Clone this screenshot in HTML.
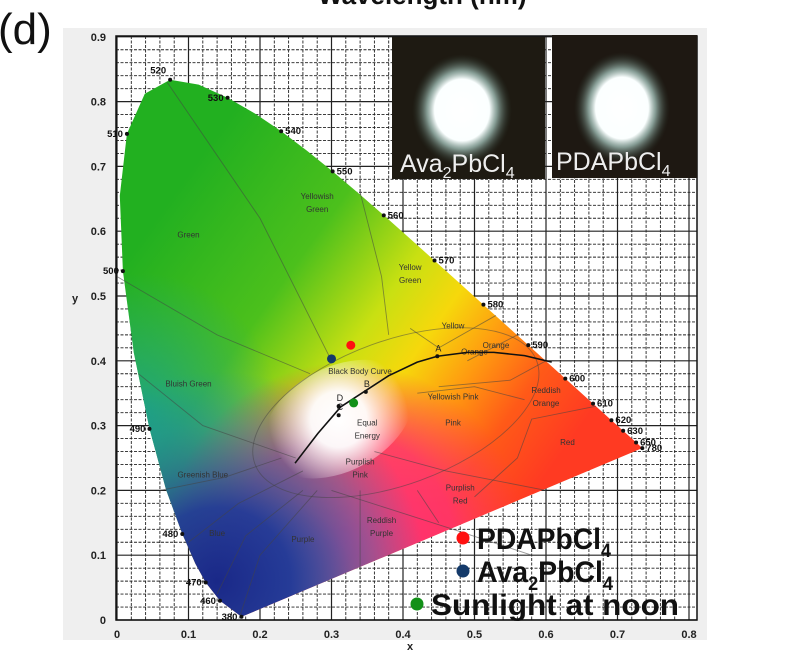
<!DOCTYPE html>
<html><head><meta charset="utf-8"><style>
html,body{margin:0;padding:0;background:#fff;width:797px;height:671px;overflow:hidden}
svg{display:block;font-family:"Liberation Sans",sans-serif}
</style></head><body>
<svg id="chart" width="797" height="671" viewBox="0 0 797 671">
<defs>
<clipPath id="locusClip"><path id="clipPath"/></clipPath>
<radialGradient id="glow1" cx="0.5" cy="0.5" r="0.5"><stop offset="0" stop-color="#fff"/><stop offset="0.55" stop-color="#fbffff"/><stop offset="0.7" stop-color="#a8c8c0" stop-opacity="0.75"/><stop offset="1" stop-color="#2a3a30" stop-opacity="0"/></radialGradient>
</defs>
<rect x="63" y="28" width="644" height="612" fill="#efefef"/>
<rect x="116" y="36" width="581" height="584" fill="#fff"/>
<g id="grid"></g>
<g id="fill" clip-path="url(#locusClip)"></g>
<g id="regions"></g>
<g id="bb"></g>
<g id="locusMarks"></g>
<g id="axes"></g>
<g id="pts"></g>
<text x="-2" y="44" font-size="44" fill="#111">(d)</text>
<text x="318" y="4" font-size="26" font-weight="bold" fill="#111">Wavelength (nm)</text>
<g>
<rect x="392" y="37" width="153" height="142" fill="#1e1a12"/>
<ellipse cx="462" cy="110" rx="50" ry="56" fill="url(#glow1)"/>
<text x="400" y="172" font-size="25" fill="#eee">Ava<tspan font-size="16" dy="6">2</tspan><tspan dy="-6">PbCl</tspan><tspan font-size="16" dy="6">4</tspan></text>
</g>
<g>
<rect x="552" y="35" width="145" height="143" fill="#1e1812"/>
<ellipse cx="622" cy="108" rx="48" ry="56" fill="url(#glow1)"/>
<text x="556" y="170" font-size="25" fill="#eee">PDAPbCl<tspan font-size="16" dy="6">4</tspan></text>
</g>
<g id="legend"></g>
</svg>
<script>
const svgNS="http://www.w3.org/2000/svg";
// spectral locus data (CIE 1931)
const locusX=[0.1741,0.1440,0.1241,0.1096,0.0913,0.0687,0.0454,0.0235,0.0082,0.0039,0.0139,0.0389,0.0743,0.1142,0.1547,0.1929,0.2296,0.2658,0.3016,0.3373,0.3731,0.4087,0.4441,0.4788,0.5125,0.5448,0.5752,0.6270,0.6658,0.6915,0.7079,0.7260,0.7347];
const locusY=[0.0050,0.0297,0.0578,0.0868,0.1327,0.2007,0.2950,0.4127,0.5384,0.6548,0.7502,0.8120,0.8338,0.8262,0.8059,0.7816,0.7543,0.7243,0.6923,0.6589,0.6245,0.5896,0.5547,0.5202,0.4866,0.4544,0.4242,0.3725,0.3340,0.3083,0.2920,0.2740,0.2653];
const markNm=["380","460","470","480","490","500","510","520","530","540","550","560","570","580","590","600","610","620","630","650","780"];
const markX=[0.1741,0.1440,0.1241,0.0913,0.0454,0.0082,0.0139,0.0743,0.1547,0.2296,0.3016,0.3731,0.4441,0.5125,0.5752,0.6270,0.6658,0.6915,0.7079,0.7260,0.7347];
const markY=[0.0050,0.0297,0.0578,0.1327,0.2950,0.5384,0.7502,0.8338,0.8059,0.7543,0.6923,0.6245,0.5547,0.4866,0.4242,0.3725,0.3340,0.3083,0.2920,0.2740,0.2653];
const bbX=[0.249,0.281,0.313,0.345,0.380,0.420,0.448,0.490,0.527,0.570,0.608];
const bbY=[0.242,0.288,0.329,0.352,0.377,0.398,0.407,0.413,0.413,0.408,0.398];
const ptNames=["PDAPbCl4","Ava2PbCl4","Sunlight at noon"];
const ptX=[0.327,0.300,0.331];
const ptY=[0.424,0.403,0.335];
const ptColors=["#ff1010","#143a6a","#129018"];
const xTicks=["0","0.1","0.2","0.3","0.4","0.5","0.6","0.7","0.8"];
const yTicks=["0","0.1","0.2","0.3","0.4","0.5","0.6","0.7","0.8","0.9"];

const X=v=>117+v*715, Y=v=>620-v*648;
function mk(tag,attrs,parent){const e=document.createElementNS(svgNS,tag);for(const k in attrs)e.setAttribute(k,attrs[k]);parent.appendChild(e);return e;}

// grid
const grid=document.getElementById('grid');
for(let i=0;i<=40;i++){const v=i*0.02;const px=X(v);if(px>697)break;
 const l=mk('line',{x1:px,y1:36,x2:px,y2:620,stroke:'#222','stroke-width':i%5==0?1.2:0.9,'stroke-dasharray':i%5==0?'':'3,1.5'},grid);
 }
for(let i=0;i<=45;i++){const v=i*0.02;const py=Y(v);
 const l=mk('line',{x1:116,y1:py,x2:697,y2:py,stroke:'#222','stroke-width':i%5==0?1.2:0.9,'stroke-dasharray':i%5==0?'':'3,1.5'},grid);
 }
mk('rect',{x:116,y:36,width:581,height:584,fill:'none',stroke:'#111','stroke-width':1.5},grid);

// locus path
let d='';for(let i=0;i<locusX.length;i++)d+=(i?'L':'M')+X(locusX[i]).toFixed(1)+','+Y(locusY[i]).toFixed(1);d+='Z';
document.getElementById('clipPath').setAttribute('d',d);
const fill=document.getElementById('fill');
const defs=document.querySelector('defs');
function lin(id,x1,y1,x2,y2,stops){const g=mk('linearGradient',{id,gradientUnits:'userSpaceOnUse',x1,y1,x2,y2},defs);stops.forEach(s=>mk('stop',{offset:s[0],'stop-color':s[1],'stop-opacity':s[2]==null?1:s[2]},g));}
function rad(id,cx,cy,r,stops){const g=mk('radialGradient',{id,gradientUnits:'userSpaceOnUse',cx,cy,r},defs);stops.forEach(s=>mk('stop',{offset:s[0],'stop-color':s[1],'stop-opacity':s[2]==null?1:s[2]},g));}
lin('gBase',X(0.12),Y(0.72),X(0.65),Y(0.3),[[0,'#22b020'],[0.3,'#4cc01c'],[0.5,'#c8e012'],[0.62,'#f6d80c'],[0.74,'#ff9a10'],[0.86,'#ff5a18'],[1,'#ff3a22']]);
rad('gBlue',X(0.14),Y(0.06),210,[[0,'#1a2888'],[0.35,'#1e3c98',0.95],[0.75,'#1a80b0',0.4],[1,'#1a8fb0',0]]);
rad('gTeal',X(0.03),Y(0.32),140,[[0,'#18a090',0.85],[1,'#18a090',0]]);
rad('gMag',X(0.32),Y(0.12),180,[[0,'#ff2a80'],[0.6,'#ff3070',0.85],[1,'#ff3060',0]]);
rad('gPurple',X(0.21),Y(0.06),85,[[0,'#8a2a9c',0.85],[1,'#8a2a9c',0]]);
rad('gWhite',X(0.31),Y(0.31),70,[[0,'#ffffff'],[0.4,'#ffffff',0.95],[1,'#ffffff',0]]);
mk('rect',{x:100,y:20,width:600,height:620,fill:'url(#gBase)'},fill);
mk('rect',{x:100,y:20,width:600,height:620,fill:'url(#gTeal)'},fill);
mk('rect',{x:100,y:20,width:600,height:620,fill:'url(#gMag)'},fill);
mk('rect',{x:100,y:20,width:600,height:620,fill:'url(#gPurple)'},fill);
mk('rect',{x:100,y:20,width:600,height:620,fill:'url(#gBlue)'},fill);
mk('ellipse',{cx:X(0.31),cy:Y(0.31),rx:80,ry:52,fill:'url(#gWhite)',transform:`rotate(-28 ${X(0.31)} ${Y(0.31)})`},fill);

// region boundaries (approximate)
const reg=document.getElementById('regions');
const lines=[
 [[0.07,0.83],[0.2,0.62],[0.3,0.4]],
 [[0.0,0.53],[0.14,0.44],[0.27,0.38]],
 [[0.34,0.66],[0.37,0.53],[0.38,0.44]],
 [[0.53,0.47],[0.45,0.42],[0.41,0.45]],
 [[0.56,0.44],[0.49,0.4]],
 [[0.6,0.4],[0.55,0.37],[0.45,0.36]],
 [[0.67,0.33],[0.58,0.31],[0.56,0.25],[0.5,0.19]],
 [[0.03,0.38],[0.12,0.3],[0.25,0.25]],
 [[0.06,0.2],[0.15,0.22],[0.23,0.25]],
 [[0.1,0.12],[0.17,0.18],[0.26,0.23]],
 [[0.14,0.04],[0.18,0.13],[0.26,0.2]],
 [[0.17,0.0],[0.2,0.1],[0.28,0.2]],
 [[0.34,0.08],[0.34,0.2]],
 [[0.45,0.15],[0.42,0.2]],
 [[0.3,0.2],[0.47,0.14],[0.58,0.1]],
 [[0.36,0.26],[0.46,0.23],[0.6,0.2]],
 [[0.42,0.35],[0.5,0.36],[0.57,0.34]]
];
lines.forEach(pts=>{let p='';pts.forEach((q,i)=>p+=(i?'L':'M')+X(q[0])+','+Y(q[1]));
 const e=mk('path',{d:p,fill:'none',stroke:'#444','stroke-opacity':0.55,'stroke-width':0.9},reg);
 });
mk('ellipse',{cx:X(0.39),cy:Y(0.32),rx:150,ry:72,fill:'none',stroke:'#444','stroke-opacity':0.5,'stroke-width':0.9,transform:`rotate(-20 ${X(0.39)} ${Y(0.32)})`},reg);
const labels=[["Green",0.1,0.59],["Yellowish",0.28,0.65],["Green",0.28,0.63],["Yellow",0.41,0.54],["Green",0.41,0.52],["Yellow",0.47,0.45],["Orange",0.5,0.41],["Orange",0.53,0.42],["Reddish",0.6,0.35],["Orange",0.6,0.33],["Red",0.63,0.27],["Pink",0.47,0.3],["Yellowish Pink",0.47,0.34],["Equal",0.35,0.3],["Energy",0.35,0.28],["Bluish Green",0.1,0.36],["Greenish Blue",0.12,0.22],["Blue",0.14,0.13],["Purple",0.26,0.12],["Reddish",0.37,0.15],["Purple",0.37,0.13],["Purplish",0.34,0.24],["Pink",0.34,0.22],["Purplish",0.48,0.2],["Red",0.48,0.18],["Black Body Curve",0.34,0.38]];
labels.forEach(l=>{const t=mk('text',{x:X(l[1]),y:Y(l[2]),'font-size':8,fill:'#333','text-anchor':'middle'},reg);t.textContent=l[0];
 });

// black body curve
const bb=document.getElementById('bb');
let bp='';bbX.forEach((v,i)=>bp+=(i?'L':'M')+X(v)+','+Y(bbY[i]));
mk('path',{d:bp,fill:'none',stroke:'#111','stroke-width':1.6,'stroke-linejoin':'round'},bb);
[["A",0.448,0.407],["B",0.348,0.352],["C",0.31,0.316],["D",0.31,0.33]].forEach(a=>{
 mk('circle',{cx:X(a[1]),cy:Y(a[2]),r:2,fill:'#111'},bb);
 const t=mk('text',{x:X(a[1])-2,y:Y(a[2])-5,'font-size':9,fill:'#222'},bb);t.textContent=a[0];});

// locus markers
const lm=document.getElementById('locusMarks');
markNm.forEach((n,i)=>{const px=X(markX[i]),py=Y(markY[i]);
 const c=mk('circle',{cx:px,cy:py,r:2,fill:'#111'},lm);
 
 const left=markX[i]<0.2;
 const t=mk('text',{x:left?px-4:px+4,y:py+(markX[i]<0.1&&markY[i]>0.8?-6:3),'font-size':9.5,'font-weight':'bold',fill:'#111','text-anchor':left?'end':'start'},lm);
 t.textContent=n;});

// axes labels
const ax=document.getElementById('axes');
xTicks.forEach((s,i)=>{const t=mk('text',{x:X(i*0.1),y:638,'font-size':11,'font-weight':'bold',fill:'#222','text-anchor':'middle'},ax);t.textContent=s;
 });
yTicks.forEach((s,i)=>{const t=mk('text',{x:106,y:Y(i*0.1)+4,'font-size':11,'font-weight':'bold',fill:'#222','text-anchor':'end'},ax);t.textContent=s;
 });
let t=mk('text',{x:410,y:650,'font-size':11,'font-weight':'bold',fill:'#222','text-anchor':'middle'},ax);t.textContent='x';

t=mk('text',{x:72,y:302,'font-size':11,'font-weight':'bold',fill:'#222'},ax);t.textContent='y';


// sample points
const pts=document.getElementById('pts');
ptX.forEach((v,i)=>{const c=mk('circle',{cx:X(v),cy:Y(ptY[i]),r:4.5,fill:ptColors[i]},pts);
 });

// legend
const lg=document.getElementById('legend');
const legX=[463,463,417],legY=[538,571,604];
const legW=[134,136,248];
const legHtml=[['PDAPbCl','4'],['Ava','2','PbCl','4'],['Sunlight at noon']];
legHtml.forEach((parts,i)=>{
 const c=mk('circle',{cx:legX[i],cy:legY[i],r:6.5,fill:ptColors[i]},lg);
 
 const tx=mk('text',{x:legX[i]+14,y:legY[i]+11,'font-size':30,'font-weight':'bold',fill:'#111',textLength:legW[i],lengthAdjust:'spacingAndGlyphs'},lg);
 
 let sub=false;parts.forEach((p,j)=>{const s=mk('tspan',j==0?{}:{dy:sub?-8:8,'font-size':sub?30:19},tx);if(j>0)sub=!sub;s.textContent=p;});
});
</script>
</body></html>
